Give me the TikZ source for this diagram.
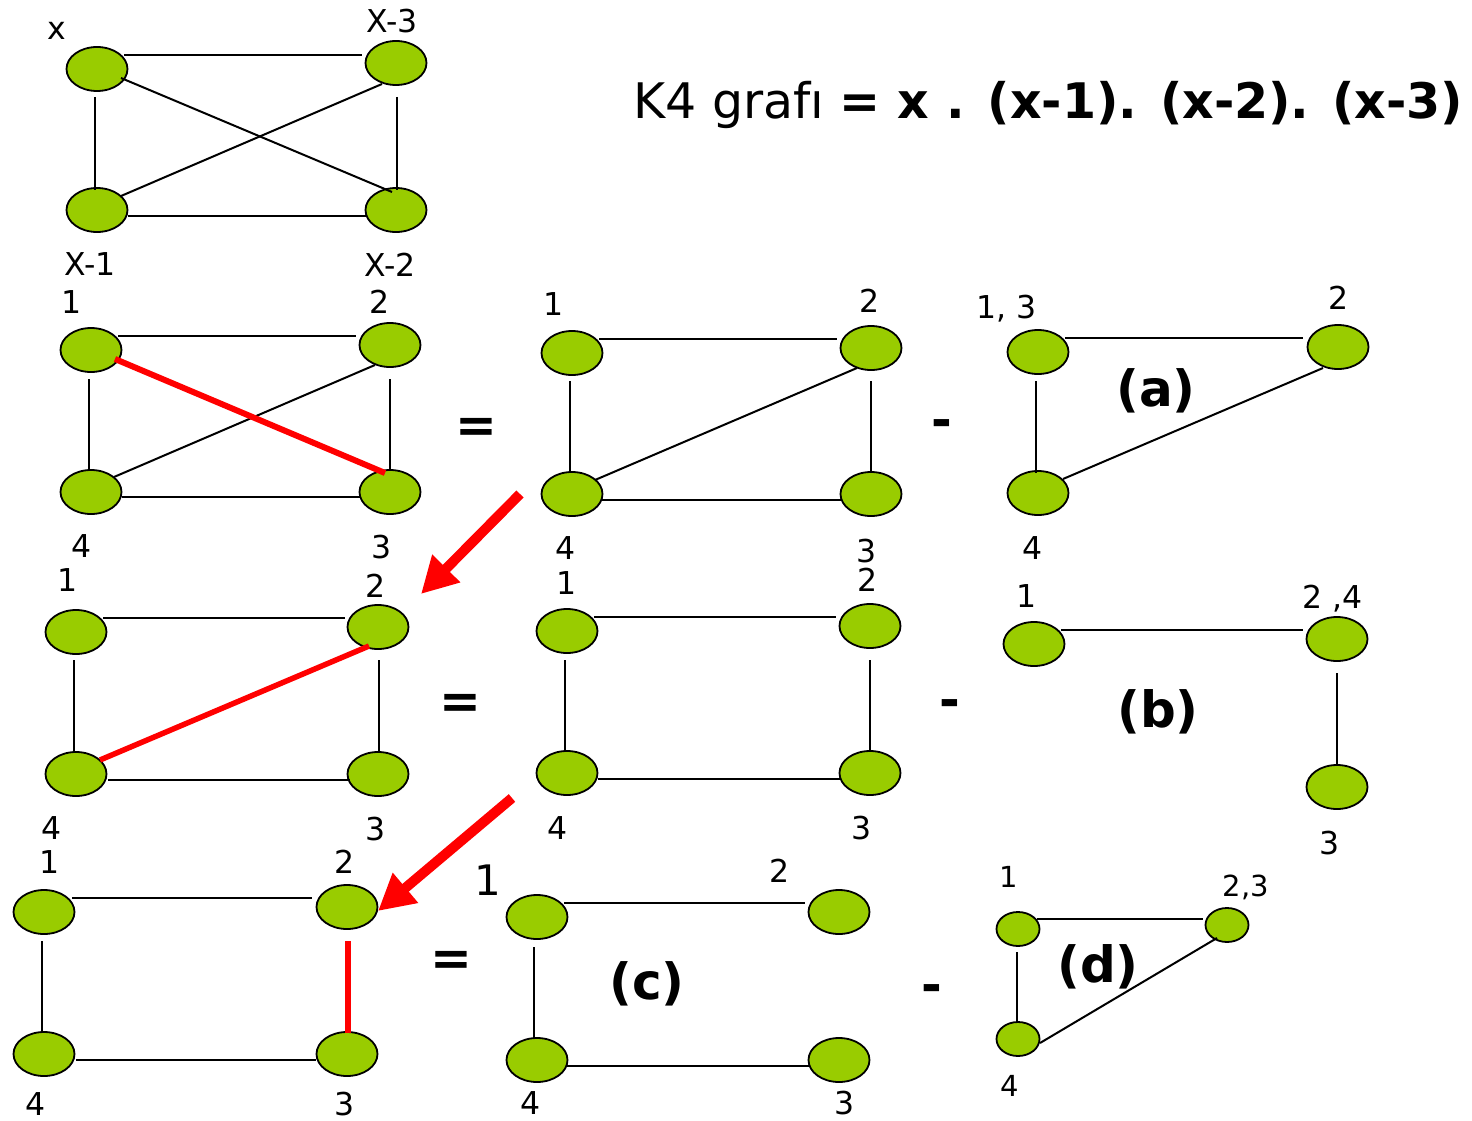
\documentclass[tikz,border=0pt]{standalone}
\usepackage{fontspec}
\setmainfont{DejaVu Sans}
\usetikzlibrary{shapes.geometric,calc,arrows.meta}
\definecolor{vgreen}{HTML}{99CC00}
\begin{document}
\begin{tikzpicture}[x=1pt,y=-1pt,
 vtx/.style={ellipse,draw=black,line width=1.8pt,fill=vgreen,minimum width=61pt,minimum height=44pt,inner sep=0pt},
 svtx/.style={vtx,minimum width=43pt,minimum height=34pt},
 edge/.style={line width=2pt,black},
 redge/.style={line width=5.5pt,red},
 lab/.style={inner sep=0pt,text depth=0pt,font=\fontsize{31.5}{37}\selectfont},
 slab/.style={lab,font=\fontsize{29}{34}\selectfont},
 blab/.style={lab,font=\fontsize{42}{48}\selectfont},
 op/.style={inner sep=0pt,font=\fontsize{50}{60}\selectfont\bfseries},
 arr/.style={red,line width=10pt,-{Triangle[length=36pt,width=37pt]}}]
\useasboundingbox (0,0) rectangle (1472,1121);

% title
\node[anchor=base west,inner sep=0pt,font=\fontsize{49}{58}\selectfont] (title) at (633,119) {K4 grafı \textbf{= x . (x-1). (x-2). (x-3)}};

% ---------- G0: K4 with x labels
\node[vtx] (k1) at (97,69) {};
\node[vtx] (k3) at (396,63) {};
\node[vtx] (k4) at (97,210) {};
\node[vtx] (k2) at (396,210) {};
\node[lab] (k1l) at (57,31) {x};
\node[lab] (k3l) at (392,21) {X-3};
\node[lab] (k4l) at (90,264) {X-1};
\node[lab] (k2l) at (390,265) {X-2};
\draw[edge] ($(k1)+(27,-14)$) -- ($(k3)+(-34,-8)$);
\draw[edge] ($(k1)+(-2,28)$) -- ($(k4)+(-2,-20)$);
\draw[edge] ($(k3)+(1,34)$) -- ($(k2)+(1,-20)$);
\draw[edge] ($(k4)+(31,6)$) -- ($(k2)+(-29,6)$);
\draw[edge] ($(k1)+(24,9)$) -- ($(k2)+(-4,-18)$);
\draw[edge] ($(k4)+(24,-14)$) -- ($(k3)+(-14,21)$);

% ---------- G1
\node[vtx] (a1) at (91,350) {};
\node[vtx] (a2) at (390,345) {};
\node[vtx] (a4) at (91,492) {};
\node[vtx] (a3) at (390,492) {};
\node[lab] (a1l) at (72,302) {1};
\node[lab] (a2l) at (380,302) {2};
\node[lab] (a4l) at (82,546) {4};
\node[lab] (a3l) at (382,547) {3};
\draw[edge] ($(a1)+(27,-14)$) -- ($(a2)+(-34,-9)$);
\draw[edge] ($(a1)+(-2,29)$) -- ($(a4)+(-2,-22)$);
\draw[edge] ($(a2)+(0,34)$) -- ($(a3)+(0,-22)$);
\draw[edge] ($(a4)+(31,5)$) -- ($(a3)+(-30,5)$);
\draw[edge] ($(a4)+(23,-15)$) -- ($(a2)+(-15,20)$);
\draw[redge,line width=6pt] ($(a1)+(24,9)$) -- ($(a3)+(-5,-19)$);
\node[op] (eq1) at (476,430) {=};

% ---------- G2
\node[vtx] (b1) at (572,353) {};
\node[vtx] (b2) at (871,348) {};
\node[vtx] (b4) at (572,494) {};
\node[vtx] (b3) at (871,494) {};
\node[lab] (b1l) at (554,304) {1};
\node[lab] (b2l) at (870,301) {2};
\node[lab] (b4l) at (566,548) {4};
\node[lab] (b3l) at (867,551) {3};
\draw[edge] ($(b1)+(27,-14)$) -- ($(b2)+(-34,-9)$);
\draw[edge] ($(b1)+(-2,28)$) -- ($(b4)+(-2,-21)$);
\draw[edge] ($(b2)+(0,33)$) -- ($(b3)+(0,-21)$);
\draw[edge] ($(b4)+(30,6)$) -- ($(b3)+(-30,6)$);
\draw[edge] ($(b4)+(23,-14)$) -- ($(b2)+(-14,20)$);
\node[op] (mi1) at (942,429) {-};

% ---------- (a)
\node[vtx] (c13) at (1038,352) {};
\node[vtx] (c2) at (1338,347) {};
\node[vtx] (c4) at (1038,493) {};
\node[lab] (c13l) at (1007,307) {1, 3};
\node[lab] (c2l) at (1339,298) {2};
\node[lab] (c4l) at (1033,548) {4};
\draw[edge] ($(c13)+(27,-14)$) -- ($(c2)+(-35,-9)$);
\draw[edge] ($(c13)+(-2,29)$) -- ($(c4)+(-2,-20)$);
\draw[edge] ($(c4)+(25,-14)$) -- ($(c2)+(-15,21)$);
\node[op] (ta) at (1156,391) {(a)};

% ---------- G3
\node[vtx] (d1) at (76,632) {};
\node[vtx] (d2) at (378,627) {};
\node[vtx] (d4) at (76,774) {};
\node[vtx] (d3) at (378,774) {};
\node[lab] (d1l) at (68,580) {1};
\node[lab] (d2l) at (376,586) {2};
\node[lab] (d4l) at (52,828) {4};
\node[lab] (d3l) at (376,829) {3};
\draw[edge] ($(d1)+(27,-14)$) -- ($(d2)+(-33,-9)$);
\draw[edge] ($(d1)+(-2,28)$) -- ($(d4)+(-2,-21)$);
\draw[edge] ($(d2)+(1,33)$) -- ($(d3)+(1,-21)$);
\draw[edge] ($(d4)+(32,6)$) -- ($(d3)+(-28,6)$);
\draw[redge] ($(d4)+(24,-14)$) -- ($(d2)+(-9,19)$);
\node[op] (eq2) at (460,706) {=};

% ---------- G4
\node[vtx] (e1) at (567,631) {};
\node[vtx] (e2) at (870,626) {};
\node[vtx] (e4) at (567,773) {};
\node[vtx] (e3) at (870,773) {};
\node[lab] (e1l) at (567,583) {1};
\node[lab] (e2l) at (868,580) {2};
\node[lab] (e4l) at (558,828) {4};
\node[lab] (e3l) at (862,828) {3};
\draw[edge] ($(e1)+(27,-14)$) -- ($(e2)+(-34,-9)$);
\draw[edge] ($(e1)+(-2,29)$) -- ($(e4)+(-2,-22)$);
\draw[edge] ($(e2)+(0,34)$) -- ($(e3)+(0,-22)$);
\draw[edge] ($(e4)+(31,6)$) -- ($(e3)+(-30,6)$);
\node[op] (mi2) at (950,709) {-};

% ---------- (b)
\node[vtx] (f1) at (1034,644) {};
\node[vtx] (f24) at (1337,639) {};
\node[vtx] (f3) at (1337,787) {};
\node[lab] (f1l) at (1027,596) {1};
\node[lab] (f24l) at (1333,597) {2 ,4};
\node[lab] (f3l) at (1330,843) {3};
\draw[edge] ($(f1)+(27,-14)$) -- ($(f24)+(-34,-9)$);
\draw[edge] ($(f24)+(0,34)$) -- ($(f3)+(0,-23)$);
\node[op] (tb) at (1158,712) {(b)};

% ---------- G5
\node[vtx] (g1) at (44,912) {};
\node[vtx] (g2) at (347,907) {};
\node[vtx] (g4) at (44,1054) {};
\node[vtx] (g3) at (347,1054) {};
\node[lab] (g1l) at (50,862) {1};
\node[lab] (g2l) at (345,862) {2};
\node[lab] (g4l) at (36,1104) {4};
\node[lab] (g3l) at (345,1104) {3};
\draw[edge] ($(g1)+(28,-14)$) -- ($(g2)+(-35,-9)$);
\draw[edge] ($(g1)+(-2,29)$) -- ($(g4)+(-2,-22)$);
\draw[edge] ($(g4)+(32,6)$) -- ($(g3)+(-31,6)$);
\draw[redge] ($(g2)+(1,34)$) -- ($(g3)+(1,-21)$);
\node[op] (eq3) at (451,963) {=};

% ---------- (c)
\node[vtx] (h1) at (537,917) {};
\node[vtx] (h2) at (839,912) {};
\node[vtx] (h4) at (537,1060) {};
\node[vtx] (h3) at (839,1060) {};
\node[blab] (h1l) at (488,880) {1};
\node[lab] (h2l) at (780,871) {2};
\node[lab] (h4l) at (531,1103) {4};
\node[lab] (h3l) at (845,1103) {3};
\draw[edge] ($(h1)+(27,-14)$) -- ($(h2)+(-34,-9)$);
\draw[edge] ($(h1)+(-3,30)$) -- ($(h4)+(-3,-22)$);
\draw[edge] ($(h4)+(30,6)$) -- ($(h3)+(-29,6)$);
\node[op] (tc) at (647,984) {(c)};
\node[op] (mi3) at (932,994) {-};

% ---------- (d)
\node[svtx] (i1) at (1018,929) {};
\node[svtx] (i23) at (1227,925) {};
\node[svtx] (i4) at (1018,1039) {};
\node[slab] (i1l) at (1009,877) {1};
\node[slab] (i23l) at (1246,886) {2,3};
\node[slab] (i4l) at (1010,1086) {4};
\draw[edge] ($(i1)+(19,-10)$) -- ($(i23)+(-24,-6)$);
\draw[edge] ($(i1)+(-1,23)$) -- ($(i4)+(-1,-17)$);
\draw[edge] ($(i4)+(22,4)$) -- ($(i23)+(-10,13)$);
\node[op] (td) at (1098,967) {(d)};

% ---------- red arrows
\coordinate (r1s) at (520,494);
\coordinate (r1e) at (421,594);
\coordinate (r2s) at (512,798);
\coordinate (r2e) at (378,911);
\draw[arr] (r1s) -- (r1e);
\draw[arr] (r2s) -- (r2e);
\end{tikzpicture}
\end{document}
